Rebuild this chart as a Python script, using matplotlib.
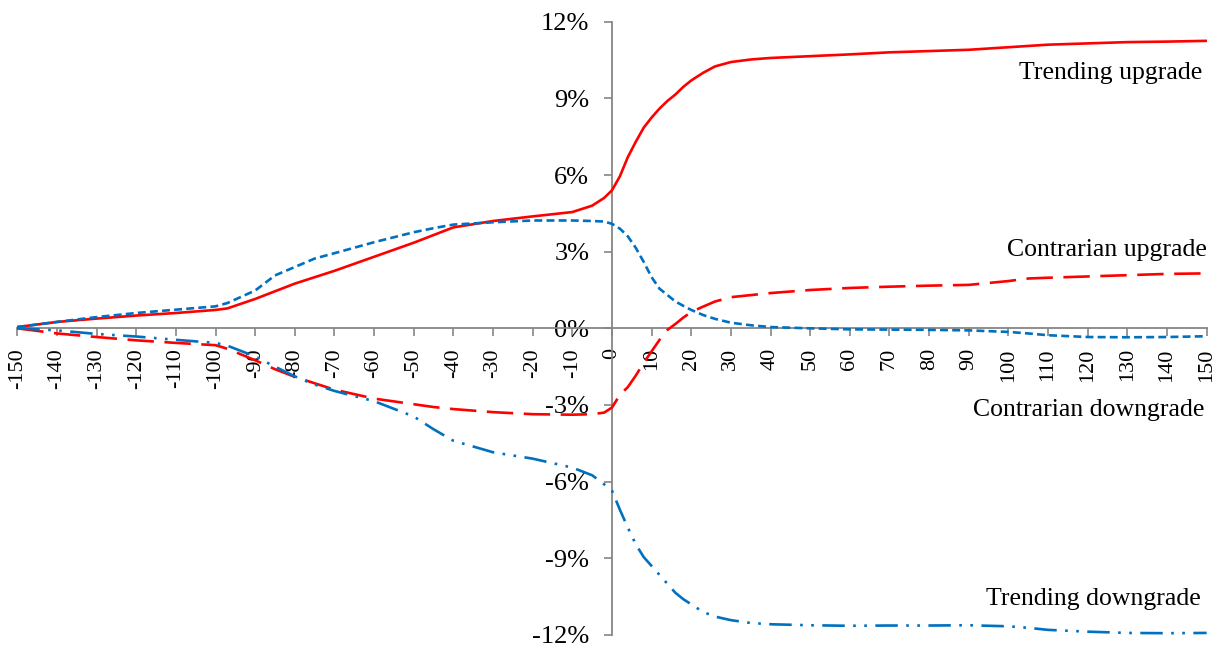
import matplotlib
matplotlib.use("Agg")
import matplotlib.pyplot as plt

plt.rcParams['font.family'] = ['Liberation Serif', 'DejaVu Serif']

# event days (common grid for all four series)
days = [-150, -140, -130, -120, -110, -100, -97, -90, -85, -80, -75, -70, -60,
        -50, -45, -40, -30, -20, -10, -5, -2, 0, 2, 4, 6, 8, 10, 12, 14, 16,
        18, 20, 23, 26, 30, 35, 40, 50, 60, 70, 80, 90, 100, 105, 110, 120,
        130, 140, 150]

# cumulative returns, %
trend_up = [0.05, 0.25, 0.38, 0.5, 0.6, 0.72, 0.78, 1.15, 1.45, 1.75, 2.0, 2.25, 2.8,
            3.35, 3.65, 3.95, 4.2, 4.38, 4.55, 4.8, 5.1, 5.4, 5.95, 6.7, 7.3, 7.85,
            8.25, 8.6, 8.9, 9.15, 9.45, 9.7, 10.0, 10.25, 10.42, 10.52, 10.58,
            10.65, 10.72, 10.8, 10.85, 10.9, 11.0, 11.05, 11.1, 11.15, 11.2,
            11.22, 11.25]
contra_up = [0.0, -0.2, -0.34, -0.47, -0.57, -0.66, -0.8, -1.25, -1.6, -1.9, -2.15,
             -2.4, -2.75, -2.97, -3.08, -3.16, -3.28, -3.36, -3.38, -3.36, -3.3,
             -3.1, -2.6, -2.3, -1.85, -1.35, -0.9, -0.45, -0.06, 0.17, 0.42, 0.64,
             0.85, 1.05, 1.22, 1.3, 1.38, 1.5, 1.58, 1.63, 1.67, 1.7, 1.85, 1.95,
             1.98, 2.03, 2.08, 2.13, 2.15]
contra_down = [0.05, 0.25, 0.44, 0.6, 0.73, 0.86, 0.99, 1.48, 2.07, 2.4, 2.73, 2.94,
               3.37, 3.76, 3.92, 4.06, 4.15, 4.22, 4.22, 4.2, 4.18, 4.09, 3.9, 3.6,
               3.15, 2.6, 2.0, 1.55, 1.3, 1.05, 0.88, 0.72, 0.52, 0.37, 0.22, 0.12,
               0.05, 0.0, -0.04, -0.05, -0.06, -0.08, -0.14, -0.2, -0.27, -0.34,
               -0.35, -0.34, -0.31]
trend_down = [0.0, -0.08, -0.22, -0.32, -0.45, -0.57, -0.68, -1.1, -1.5, -1.88, -2.2,
              -2.45, -2.85, -3.45, -3.95, -4.4, -4.85, -5.1, -5.45, -5.75, -6.1,
              -6.35, -7.1, -7.8, -8.45, -8.95, -9.3, -9.65, -10.0, -10.35, -10.6,
              -10.8, -11.1, -11.28, -11.42, -11.53, -11.58, -11.62, -11.64, -11.63,
              -11.63, -11.62, -11.66, -11.72, -11.8, -11.87, -11.92, -11.93, -11.92]

x_ticks = list(range(-150, 151, 10))
y_ticks = [-12, -9, -6, -3, 0, 3, 6, 9, 12]

red = '#FF0000'
blue = '#0070C0'
grey = '#868686'

fig = plt.figure(figsize=(12.28, 6.49), dpi=100)
ax = fig.add_axes([0.0141, 0.0216, 0.9685, 0.945])

ax.plot(days, trend_up, color=red, lw=1.9, zorder=3)
ax.plot(days, contra_up, color=red, lw=1.9, dashes=(10, 4), zorder=3)
ax.plot(days, contra_down, color=blue, lw=1.9, dashes=(3, 1.6), zorder=3)
ax.plot(days, trend_down, color=blue, lw=1.9, dashes=(8.5, 3.2, 1, 3.2, 1, 3.2), zorder=3)

ax.set_xlim(-150, 150)
ax.set_ylim(-12, 12)

# axes cross at the origin
for side in ['top', 'right']:
    ax.spines[side].set_visible(False)
ax.spines['left'].set_position(('data', 0))
ax.spines['bottom'].set_position(('data', 0))
for side in ['left', 'bottom']:
    ax.spines[side].set_color(grey)
    ax.spines[side].set_linewidth(1.3)

ax.set_xticks(x_ticks)
ax.set_xticklabels([str(v) for v in x_ticks], rotation=90)
ax.set_yticks(y_ticks)
ax.set_yticklabels(['{}%'.format(v) for v in y_ticks])
ax.tick_params(axis='x', direction='out', length=5.8, width=1.2, color=grey,
               pad=8.5, labelsize=16)
ax.tick_params(axis='y', direction='out', length=5.8, width=1.2, color=grey,
               pad=10.5, labelsize=19)

# series labels
ax.text(149, 10.0, 'Trending upgrade', ha='right', va='center', fontsize=18.5)
ax.text(150, 3.05, 'Contrarian upgrade', ha='right', va='center', fontsize=18.5)
ax.text(149.5, -3.2, 'Contrarian downgrade', ha='right', va='center', fontsize=18.5)
ax.text(148.5, -10.6, 'Trending downgrade', ha='right', va='center', fontsize=18.5)

fig.savefig('out.png', dpi=100)
